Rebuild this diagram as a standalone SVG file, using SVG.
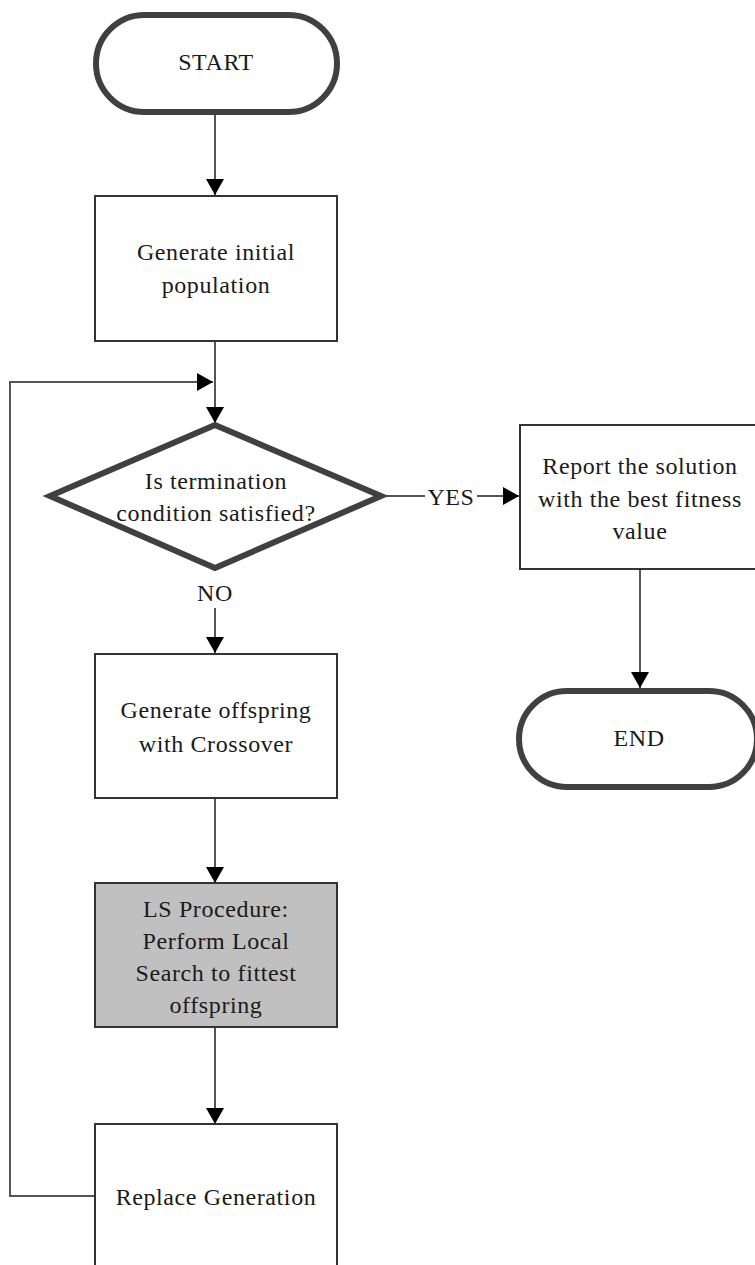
<svg xmlns="http://www.w3.org/2000/svg" width="755" height="1265" viewBox="0 0 755 1265">
  <style>
    .term { fill: #ffffff; stroke: #404040; stroke-width: 6; }
    .box { fill: #ffffff; stroke: #333333; stroke-width: 2; }
    .box.shaded { fill: #c0c0c0; }
    .diamond { fill: #ffffff; stroke: #404040; stroke-width: 6; stroke-linejoin: miter; }
    .edge { fill: none; stroke: #555555; stroke-width: 2; }
    .lbl { font-size: 24px; fill: #1a1a1a; text-anchor: middle; dominant-baseline: central; letter-spacing: 0.6px; }
  </style>
  <defs>
    <marker id="arrow" viewBox="0 0 16 18" refX="16" refY="9" markerWidth="16" markerHeight="18" markerUnits="userSpaceOnUse" orient="auto">
      <path d="M0,0 L16,9 L0,18 Z" fill="#000000"/>
    </marker>
  </defs>

  <g font-family="'Liberation Serif', 'DejaVu Serif', serif">
  <!-- connectors -->
  <g id="connectors">
    <line class="edge" x1="215" y1="115" x2="215" y2="195" marker-end="url(#arrow)"/>
    <line class="edge" x1="215" y1="341" x2="215" y2="423" marker-end="url(#arrow)"/>
    <polyline class="edge" points="95,1196 10,1196 10,382 213,382" marker-end="url(#arrow)"/>
    <line class="edge" x1="384" y1="496" x2="425" y2="496"/>
    <line class="edge" x1="477" y1="496" x2="519" y2="496" marker-end="url(#arrow)"/>
    <text class="lbl" x="451" y="497">YES</text>
    <text class="lbl" x="215" y="593">NO</text>
    <line class="edge" x1="215" y1="608" x2="215" y2="653" marker-end="url(#arrow)"/>
    <line class="edge" x1="215" y1="798" x2="215" y2="883" marker-end="url(#arrow)"/>
    <line class="edge" x1="215" y1="1027" x2="215" y2="1124" marker-end="url(#arrow)"/>
    <line class="edge" x1="640" y1="569" x2="640" y2="688" marker-end="url(#arrow)"/>
  </g>

  <g id="start">
    <rect class="term" x="96" y="15" width="241" height="97" rx="48.5" ry="48.5"/>
    <text class="lbl" x="216" y="62">START</text>
  </g>

  <g id="init">
    <rect class="box" x="95" y="196" width="242" height="145"/>
    <text class="lbl" x="216" y="252">Generate initial</text>
    <text class="lbl" x="216" y="285">population</text>
  </g>

  <g id="check">
    <polygon class="diamond" points="215,425 381,496 215,568 50,496"/>
    <text class="lbl" x="216" y="481">Is termination</text>
    <text class="lbl" x="216" y="513">condition satisfied?</text>
  </g>

  <g id="report">
    <rect class="box" x="520" y="425" width="240" height="144"/>
    <text class="lbl" x="640" y="466">Report the solution</text>
    <text class="lbl" x="640" y="499">with the best fitness</text>
    <text class="lbl" x="640" y="531">value</text>
  </g>

  <g id="end">
    <rect class="term" x="519" y="691" width="238" height="96" rx="48" ry="48"/>
    <text class="lbl" x="639" y="738">END</text>
  </g>

  <g id="crossover">
    <rect class="box" x="95" y="654" width="242" height="144"/>
    <text class="lbl" x="216" y="710">Generate offspring</text>
    <text class="lbl" x="216" y="744">with Crossover</text>
  </g>

  <g id="local-search">
    <rect class="box shaded" x="95" y="883" width="242" height="144"/>
    <text class="lbl" x="216" y="909">LS Procedure:</text>
    <text class="lbl" x="216" y="941">Perform Local</text>
    <text class="lbl" x="216" y="973">Search to fittest</text>
    <text class="lbl" x="216" y="1005">offspring</text>
  </g>

  <g id="replace">
    <rect class="box" x="95" y="1124" width="242" height="160"/>
    <text class="lbl" x="216" y="1197">Replace Generation</text>
  </g>
  </g>
</svg>
